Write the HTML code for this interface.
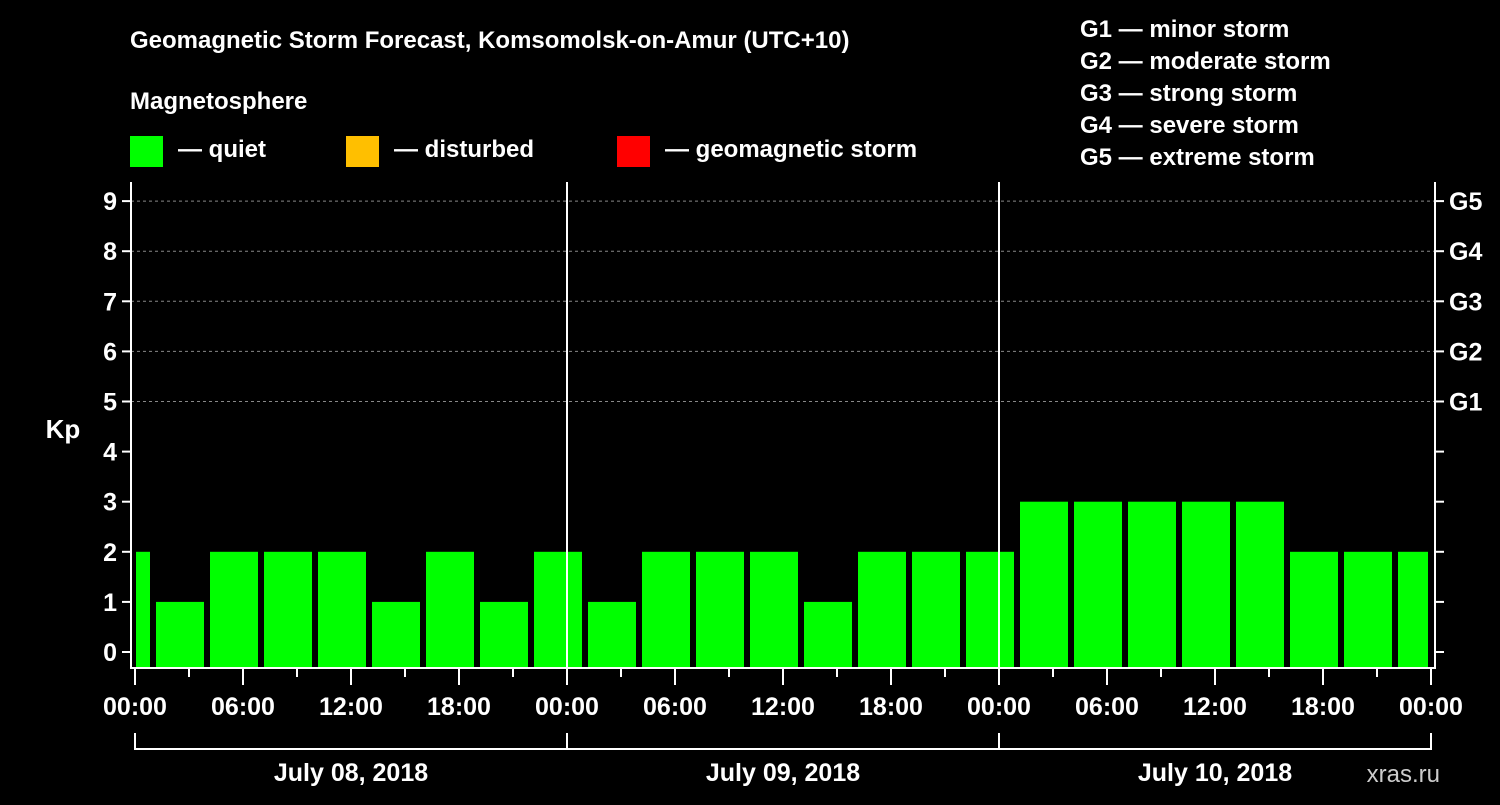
<!DOCTYPE html>
<html><head><meta charset="utf-8"><style>
body{margin:0;background:#000;width:1500px;height:800px;overflow:hidden}
svg text{font-family:"Liberation Sans",Arial,sans-serif;font-weight:bold;fill:#fff}
</style></head><body>
<svg id="c" width="1500" height="800">
<text x="130" y="48" font-size="24">Geomagnetic Storm Forecast, Komsomolsk-on-Amur (UTC+10)</text>
<text x="130" y="109" font-size="24">Magnetosphere</text>
<rect x="130" y="136" width="33" height="31" fill="#00ff00"/>
<text x="178" y="157" font-size="24">— quiet</text>
<rect x="346" y="136" width="33" height="31" fill="#ffbf00"/>
<text x="394" y="157" font-size="24">— disturbed</text>
<rect x="617" y="136" width="33" height="31" fill="#ff0000"/>
<text x="665" y="157" font-size="24">— geomagnetic storm</text>
<g>
<text x="1080" y="37" font-size="24">G1 — minor storm</text>
<text x="1080" y="69" font-size="24">G2 — moderate storm</text>
<text x="1080" y="101" font-size="24">G3 — strong storm</text>
<text x="1080" y="133" font-size="24">G4 — severe storm</text>
<text x="1080" y="165" font-size="24">G5 — extreme storm</text>
</g>
<text x="63" y="438" font-size="26" text-anchor="middle">Kp</text>
<text x="1440" y="782" font-size="24" text-anchor="end" fill="#fff" style="font-weight:normal;fill:#ccc">xras.ru</text>
<g id="plot"></g>
</svg>
<script>
const kpValues=[2,1,2,2,2,1,2,1,2,1,2,2,2,1,2,2,2,3,3,3,3,3,2,2,2];
const yTicks=[0,1,2,3,4,5,6,7,8,9];
const gLabels=["G1","G2","G3","G4","G5"];
const gLevels=[5,6,7,8,9];
const xTickLabels=["00:00","06:00","12:00","18:00","00:00","06:00","12:00","18:00","00:00","06:00","12:00","18:00","00:00"];
const dayLabels=["July 08, 2018","July 09, 2018","July 10, 2018"];
const L=131,R=1435,T=182,B=668,X0=135,HOUR=18;
const y=v=>652-v*50.1;
const xh=h=>X0+h*HOUR;
const g=document.getElementById('plot');
const NS="http://www.w3.org/2000/svg";
function mk(t,a,p){const e=document.createElementNS(NS,t);for(const k in a)e.setAttribute(k,a[k]);(p||g).appendChild(e);return e;}
// grid
yTicks.forEach(v=>{if(v>=5){const l=mk('line',{x1:L,x2:R,y1:y(v),y2:y(v),stroke:'#888','stroke-dasharray':'3,3','stroke-width':1});

}});
// bars
kpValues.forEach((v,i)=>{let s=xh(-2+3*i)+3,e=xh(1+3*i)-3;s=Math.max(s,L+5);e=Math.min(e,xh(72)-3);
const r=mk('rect',{x:s,y:y(v),width:e-s,height:B-1-y(v),fill:v>=5?'#ff0000':(v>=4?'#ffbf00':'#00ff00')});

});
// day separators
[1,2].forEach(d=>{const l=mk('line',{x1:xh(24*d),x2:xh(24*d),y1:T,y2:B,stroke:'#fff','stroke-width':2});

});
// axes
mk('path',{d:`M${L} ${T} V${B} H${R} V${T}`,stroke:'#fff','stroke-width':2,fill:'none'});
yTicks.forEach(v=>{mk('line',{x1:L-9,x2:L,y1:y(v),y2:y(v),stroke:'#fff','stroke-width':2});
mk('line',{x1:R,x2:R+9,y1:y(v),y2:y(v),stroke:'#fff','stroke-width':2});
const t=mk('text',{x:L-14,y:y(v)+9,'font-size':25,'text-anchor':'end'});t.textContent=v;

});
gLabels.forEach((s,i)=>{const t=mk('text',{x:R+14,y:y(gLevels[i])+9,'font-size':25});t.textContent=s;

});
for(let h=0;h<=72;h+=3){mk('line',{x1:xh(h),x2:xh(h),y1:B,y2:h%6==0?B+17:B+9,stroke:'#fff','stroke-width':2});}
xTickLabels.forEach((s,i)=>{const t=mk('text',{x:xh(i*6),y:715,'font-size':25,'text-anchor':'middle'});t.textContent=s;

});
mk('path',{d:`M${xh(0)} 733 V749 H${xh(72)} V733 M${xh(24)} 733 V749 M${xh(48)} 733 V749`,stroke:'#fff','stroke-width':2,fill:'none'});
dayLabels.forEach((s,i)=>{const t=mk('text',{x:xh(24*i+12),y:781,'font-size':25,'text-anchor':'middle'});t.textContent=s;

});
</script>
</body></html>
